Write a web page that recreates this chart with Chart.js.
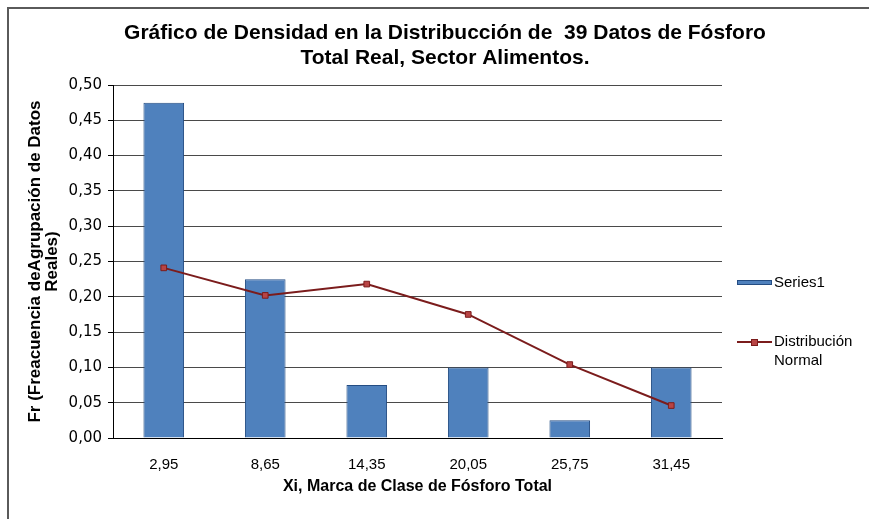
<!DOCTYPE html>
<html>
<head>
<meta charset="utf-8">
<script src="https://cdn.jsdelivr.net/npm/chart.js@4"></script>
<style>
	html, body { margin: 0; padding: 0; background: #fff; }
	#wrap { position: relative; width: 869px; height: 519px; }
	#frame { position: absolute; left: 7px; top: 7px; right: 0; bottom: 0; border-top: 2px solid #5a5a5a; border-left: 2px solid #5a5a5a; pointer-events: none; }
</style>
</head>
<body>
<div id="wrap">
	<canvas id="chart" width="869" height="519"></canvas>
	<div id="frame"></div>
</div>
<script>
	'use strict';
	const categories = [ '2,95', '8,65', '14,35', '20,05', '25,75', '31,45' ];
	const series1 = [ 0.475, 0.225, 0.075, 0.100, 0.025, 0.100 ];
	const normalDist = [ 0.241, 0.202, 0.218, 0.175, 0.104, 0.046 ];
	const titleLines = [ 'Gráfico de Densidad en la Distribucción de  39 Datos de Fósforo', 'Total Real, Sector Alimentos.' ];
	const yTitle = [ 'Fr (Freacuencia deAgrupación de Datos', 'Reales)' ];
	const xTitle = 'Xi, Marca de Clase de Fósforo Total';

	const barFill = '#4f81bd';
	const barBorder = '#244d83';
	const lineColor = '#7b1c1c';
	const markFill = '#b84444';

	// title + legend drawn by hand (chart.js legend can't do wrapped labels)
	const decorPlugin = {
		id: 'decor',
		afterDraw: function (chart) {
			const ctx = chart.ctx;
			ctx.save();
			ctx.fillStyle = '#000';
			ctx.textAlign = 'center';
			ctx.textBaseline = 'middle';
			ctx.font = 'bold 21px "Liberation Sans", Arial, sans-serif';
			ctx.fillText(titleLines[0], 445, 33);
			ctx.fillText(titleLines[1], 445, 58);

			ctx.textAlign = 'left';
			ctx.font = '15px "Liberation Sans", Arial, sans-serif';
			ctx.fillStyle = barFill;
			ctx.strokeStyle = barBorder;
			ctx.lineWidth = 1;
			ctx.fillRect(737, 280, 35, 5);
			ctx.strokeRect(737.5, 280.5, 34, 4);
			ctx.fillStyle = '#000';
			ctx.fillText('Series1', 774, 283);

			ctx.strokeStyle = lineColor;
			ctx.lineWidth = 2;
			ctx.beginPath();
			ctx.moveTo(737, 342);
			ctx.lineTo(772, 342);
			ctx.stroke();
			ctx.fillStyle = markFill;
			ctx.lineWidth = 1;
			ctx.fillRect(751, 339, 7, 7);
			ctx.strokeRect(751.5, 339.5, 6, 6);
			ctx.fillStyle = '#000';
			ctx.fillText('Distribución', 774, 342);
			ctx.fillText('Normal', 774, 361);
			ctx.restore();
		}
	};

	new Chart(document.getElementById('chart').getContext('2d'), {
		type: 'bar',
		data: {
			labels: categories,
			datasets: [
				{
					label: 'Series1',
					data: series1,
					backgroundColor: barFill,
					borderColor: barBorder,
					borderWidth: 1,
					categoryPercentage: 1,
					barPercentage: 0.4,
					order: 2
				},
				{
					type: 'line',
					label: 'Distribución Normal',
					data: normalDist,
					borderColor: lineColor,
					borderWidth: 2,
					pointStyle: 'rect',
					pointRadius: 4,
					pointBackgroundColor: markFill,
					pointBorderColor: lineColor,
					pointBorderWidth: 1,
					tension: 0,
					order: 1
				}
			]
		},
		options: {
			responsive: false,
			animation: false,
			devicePixelRatio: 1,
			layout: {
				padding: { top: 85, right: 147, bottom: 21, left: 10 }
			},
			plugins: {
				legend: { display: false },
				title: { display: false },
				tooltip: { enabled: false }
			},
			scales: {
				y: {
					min: 0,
					max: 0.5,
					afterFit: function (scale) { scale.width = 103; },
					ticks: {
						stepSize: 0.05,
						color: '#000',
						padding: 6,
						font: { family: '"DejaVu Sans", sans-serif', size: 15 },
						callback: function (v) { return v.toFixed(2).replace('.', ','); }
					},
					grid: {
						color: '#4a4a4a',
						lineWidth: 1,
						tickLength: 5,
						tickColor: '#000'
					},
					border: { color: '#000', width: 1 },
					title: {
						display: true,
						text: yTitle,
						color: '#000',
						padding: { top: 16, bottom: 2 },
						font: { family: '"Liberation Sans", Arial, sans-serif', size: 17, weight: 'bold', lineHeight: 1.05 }
					}
				},
				x: {
					afterFit: function (scale) { scale.height = 60; },
					ticks: {
						color: '#000',
						padding: 10,
						font: { family: '"Liberation Sans", Arial, sans-serif', size: 15 }
					},
					grid: { display: false },
					border: { color: '#000', width: 1 },
					title: {
						display: true,
						text: xTitle,
						color: '#000',
						padding: { top: 4, bottom: 2 },
						font: { family: '"Liberation Sans", Arial, sans-serif', size: 16, weight: 'bold' }
					}
				}
			}
		},
		plugins: [ decorPlugin ]
	});
</script>
</body>
</html>
